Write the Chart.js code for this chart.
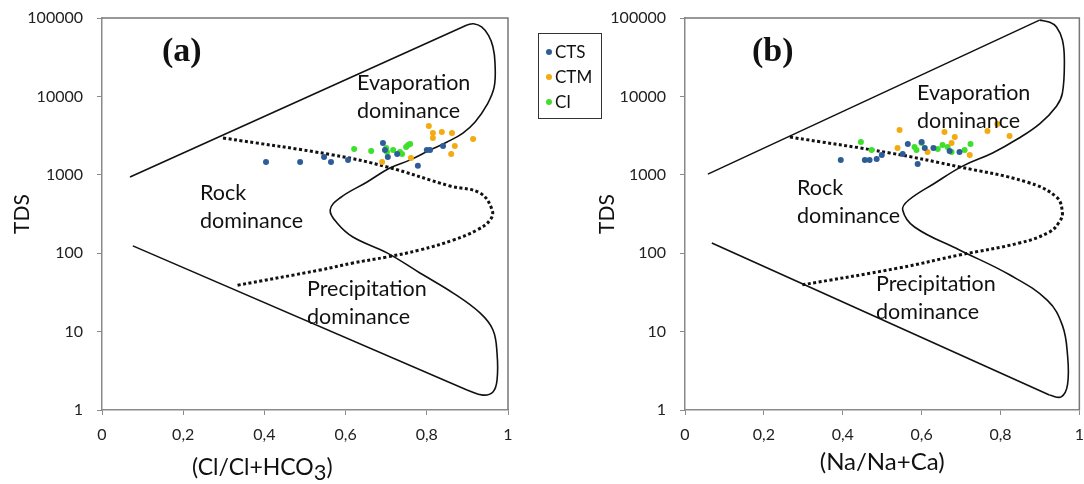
<!DOCTYPE html>
<html>
<head>
<meta charset="utf-8">
<script src="https://cdn.jsdelivr.net/npm/chart.js@4/dist/chart.umd.min.js"></script>
<style>
  body { margin: 0; background: #fff; width: 1084px; height: 484px; position: relative; overflow: hidden; font-family: Lato, sans-serif; color: #111; }
  #boxA { position: absolute; left: 0; top: 0; width: 540px; height: 484px; }
  #boxB { position: absolute; left: 580px; top: 0; width: 514px; height: 484px; }
  .lbl { position: absolute; font-size: 21.5px; line-height: 28px; white-space: nowrap; }
  .panel { position: absolute; font-family: "Liberation Serif", serif; font-weight: bold; font-size: 34px; line-height: 34px; }
  .xtitle { position: absolute; font-size: 23px; line-height: 28px; white-space: nowrap; }
  .xtitle sub { font-size: 0.95em; position: relative; top: 5px; vertical-align: baseline; }
  #legend { position: absolute; left: 538px; top: 33px; width: 64px; height: 86px; border: 1px solid #333; box-sizing: border-box; font-size: 17px; }
  #legend div { position: absolute; left: 16px; line-height: 20px; }
  #legend span { position: absolute; left: -9px; top: 7px; width: 6px; height: 6px; border-radius: 3px; }
</style>
</head>
<body>
<div id="boxA"><canvas id="chartA"></canvas></div>
<div id="boxB"><canvas id="chartB"></canvas></div>

<div class="panel" style="left:162px; top:33px">(a)</div>
<div class="panel" style="left:752px; top:33px">(b)</div>

<div class="lbl" style="left:357px; top:68px">Evaporation<br>dominance</div>
<div class="lbl" style="left:200px; top:178px">Rock<br>dominance</div>
<div class="lbl" style="left:307px; top:274px">Precipitation<br>dominance</div>

<div class="lbl" style="left:917px; top:78px">Evaporation<br>dominance</div>
<div class="lbl" style="left:797px; top:173px">Rock<br>dominance</div>
<div class="lbl" style="left:876px; top:269px">Precipitation<br>dominance</div>

<div class="xtitle" style="left:192px; top:452px">(Cl/Cl+HCO<sub>3</sub>)</div>

<div id="legend"></div>

<script>
// sample groups
const groups = ['CTS', 'CTM', 'CI'];
const groupColors = ['#2e5c99', '#f2ab10', '#3ee02c'];

// panel (a): Cl/(Cl+HCO3) against TDS
const aCtsX = [0.404, 0.488, 0.547, 0.564, 0.606, 0.692, 0.697, 0.704, 0.727, 0.778, 0.800, 0.808, 0.840];
const aCtsTds = [1460, 1460, 1690, 1460, 1550, 2550, 2070, 1690, 1840, 1300, 2070, 2070, 2330];
const aCtmX = [0.805, 0.815, 0.815, 0.837, 0.862, 0.869, 0.860, 0.914, 0.690, 0.761];
const aCtmTds = [4190, 3410, 2950, 3510, 3410, 2330, 1840, 2860, 1460, 1640];
const aCiX = [0.621, 0.663, 0.700, 0.702, 0.717, 0.734, 0.739, 0.749, 0.754, 0.759];
const aCiTds = [2130, 2010, 2200, 1950, 2070, 1950, 1840, 2260, 2400, 2470];

// panel (b): Na/(Na+Ca) against TDS
const bCtsX = [0.395, 0.456, 0.468, 0.486, 0.499, 0.552, 0.565, 0.590, 0.600, 0.608, 0.630, 0.671, 0.696];
const bCtsTds = [1550, 1550, 1550, 1590, 1790, 1840, 2470, 1370, 2620, 2200, 2200, 2010, 1950];
const bCtmX = [0.544, 0.539, 0.615, 0.658, 0.684, 0.676, 0.722, 0.767, 0.792, 0.823];
const bCtmTds = [3730, 2200, 1950, 3510, 3030, 2550, 1790, 3620, 4450, 3130];
const bCiX = [0.446, 0.473, 0.582, 0.587, 0.600, 0.641, 0.653, 0.666, 0.676, 0.709, 0.724];
const bCiTds = [2620, 2070, 2260, 2070, 2550, 2130, 2400, 2260, 1950, 2070, 2470];

// Gibbs boundaries, panel (a)
const aUpperX = [0.069, 0.899];
const aUpperTds = [940, 81500];
const aLoopX = [0.899, 0.915, 0.935, 0.952, 0.963, 0.968, 0.966, 0.948, 0.919, 0.889, 0.850, 0.808, 0.759, 0.709, 0.653, 0.586, 0.562, 0.579, 0.618, 0.702, 0.783, 0.865, 0.931, 0.963, 0.973, 0.973, 0.963, 0.938, 0.899];
const aLoopTds = [81500, 84500, 77000, 60000, 42700, 26700, 13200, 7770, 4710, 3410, 2620, 2070, 1550, 1220, 810, 506, 356, 243, 161, 101, 56, 31, 17.3, 10.5, 5.3, 2.4, 1.7, 1.55, 1.8];
const aLowerX = [0.899, 0.076];
const aLowerTds = [1.8, 124];
const aDotX = [0.298, 0.569, 0.702, 0.857, 0.931, 0.961, 0.956, 0.924, 0.865, 0.783, 0.702, 0.618, 0.537, 0.333];
const aDotTds = [2950, 1790, 1260, 720, 586, 356, 265, 198, 147, 110, 89.5, 75, 61, 39];

// Gibbs boundaries, panel (b)
const bUpperX = [0.058, 0.899];
const bUpperTds = [1020, 94000];
const bLoopX = [0.899, 0.925, 0.942, 0.957, 0.962, 0.957, 0.942, 0.900, 0.845, 0.780, 0.705, 0.633, 0.566, 0.552, 0.582, 0.696, 0.823, 0.919, 0.957, 0.970, 0.970, 0.954, 0.924];
const bLoopTds = [94000, 88000, 76700, 52400, 29100, 11000, 7500, 4500, 2900, 1900, 1300, 780, 470, 356, 216, 110, 53, 25, 12, 5, 2.1, 1.47, 1.55];
const bLowerX = [0.924, 0.068];
const bLowerTds = [1.55, 135];
const bDotX = [0.266, 0.519, 0.696, 0.866, 0.942, 0.957, 0.949, 0.924, 0.848, 0.696, 0.544, 0.291];
const bDotTds = [3030, 1900, 1260, 810, 521, 326, 250, 186, 135, 95, 65, 39];

const yTicks = [1, 10, 100, 1000, 10000, 100000];

function pts(xs, ys) {
  return xs.map((x, i) => ({ x: x, y: ys[i] }));
}

function pointSet(name, color, xs, ys) {
  return { label: name, data: pts(xs, ys), backgroundColor: color, borderColor: color, pointRadius: 3, pointBorderWidth: 0, showLine: false };
}

function lineSet(xs, ys, tension, dotted) {
  return {
    label: '', data: pts(xs, ys), showLine: true, pointRadius: 0, fill: false,
    borderColor: '#111', borderWidth: dotted ? 3 : 1.6, tension: tension,
    borderDash: dotted ? [3, 2.5] : []
  };
}

const frame = {
  id: 'frame',
  afterDraw(c) {
    const a = c.chartArea, ctx = c.ctx;
    ctx.save();
    ctx.strokeStyle = '#777';
    ctx.lineWidth = 1.5;
    ctx.beginPath();
    ctx.moveTo(a.left, a.top);
    ctx.lineTo(a.right, a.top);
    ctx.lineTo(a.right, a.bottom);
    ctx.stroke();
    ctx.restore();
  }
};

const tickFont = { family: 'Lato', size: 16 };

function makeChart(id, datasets, yWidth, yTitlePad, rightPad, xTitle) {
  return new Chart(document.getElementById(id), {
    type: 'scatter',
    data: { datasets: datasets },
    options: {
      responsive: true,
      maintainAspectRatio: false,
      animation: false,
      layout: { padding: { left: 0, right: rightPad, top: 18, bottom: 0 } },
      plugins: { legend: { display: false }, tooltip: { enabled: false } },
      scales: {
        x: {
          type: 'linear', min: 0, max: 1,
          afterFit: s => { s.height = 74; },
          ticks: {
            stepSize: 0.2, padding: 10, color: '#222', font: tickFont,
            callback: v => (v === 0 ? '0' : Math.abs(v - 1) < 1e-9 ? '1' : v.toFixed(1).replace('.', ','))
          },
          grid: { drawOnChartArea: false, drawTicks: true, tickLength: 5, color: '#8a8a8a' },
          border: { color: '#8a8a8a', width: 1.5 },
          title: { display: xTitle !== '', text: xTitle, color: '#111', font: { family: 'Lato', size: 24 }, padding: { top: 0, bottom: 7 } }
        },
        y: {
          type: 'logarithmic', min: 1, max: 100000,
          afterFit: s => { s.width = yWidth; s.paddingTop = 8; s.paddingBottom = 8; },
          afterBuildTicks: s => { s.ticks = yTicks.map(v => ({ value: v })); },
          ticks: { padding: 14, color: '#222', font: tickFont, callback: v => String(v) },
          grid: { drawOnChartArea: false, drawTicks: true, tickLength: 5, color: '#8a8a8a' },
          border: { color: '#8a8a8a', width: 1.5 },
          title: { display: true, text: 'TDS', color: '#111', font: { family: 'Lato', size: 21 }, padding: { top: yTitlePad, bottom: 0 } }
        }
      }
    },
    plugins: [frame]
  });
}

makeChart('chartA', [
  pointSet(groups[0], groupColors[0], aCtsX, aCtsTds),
  pointSet(groups[1], groupColors[1], aCtmX, aCtmTds),
  pointSet(groups[2], groupColors[2], aCiX, aCiTds),
  lineSet(aUpperX, aUpperTds, 0, false),
  lineSet(aLoopX, aLoopTds, 0.4, false),
  lineSet(aLowerX, aLowerTds, 0, false),
  lineSet(aDotX, aDotTds, 0.4, true)
], 102, 10, 32, '');

makeChart('chartB', [
  pointSet(groups[0], groupColors[0], bCtsX, bCtsTds),
  pointSet(groups[1], groupColors[1], bCtmX, bCtmTds),
  pointSet(groups[2], groupColors[2], bCiX, bCiTds),
  lineSet(bUpperX, bUpperTds, 0, false),
  lineSet(bLoopX, bLoopTds, 0.4, false),
  lineSet(bLowerX, bLowerTds, 0, false),
  lineSet(bDotX, bDotTds, 0.4, true)
], 105, 15, 14, '(Na/Na+Ca)');

// legend
const legend = document.getElementById('legend');
groups.forEach((g, i) => {
  const row = document.createElement('div');
  row.style.top = (8 + i * 25) + 'px';
  row.innerHTML = '<span style="background:' + groupColors[i] + '"></span>' + g;
  legend.appendChild(row);
});
</script>
</body>
</html>
